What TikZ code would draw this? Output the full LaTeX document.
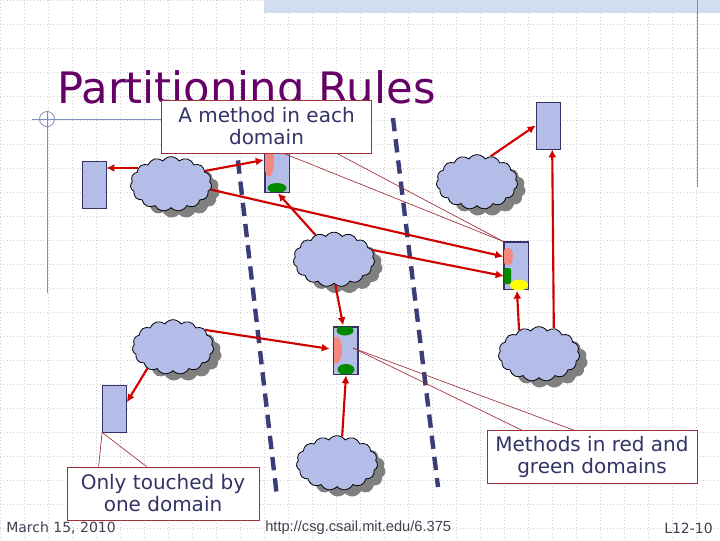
\documentclass[tikz,border=0pt]{standalone}
\usepackage{fontspec}
\setmainfont{DejaVu Sans}
\newfontfamily\urlfont{Liberation Sans}
\usetikzlibrary{arrows.meta,positioning,calc,shapes.geometric,shapes.symbols,shadows}

\definecolor{blobfill}{HTML}{B4BCE8}
\definecolor{navyline}{HTML}{333366}
\definecolor{dashnavy}{HTML}{3A3D78}
\definecolor{arrowred}{HTML}{D00000}
\definecolor{callred}{HTML}{A0303A}
\definecolor{calltext}{HTML}{333366}
\definecolor{titlepurple}{HTML}{660066}
\definecolor{pinkblob}{HTML}{F4877E}
\definecolor{greenblob}{HTML}{008A00}
\definecolor{yellowblob}{HTML}{FFFF00}
\definecolor{shadowgray}{HTML}{808080}
\definecolor{gridgray}{HTML}{D0D0D0}
\definecolor{bandblue}{HTML}{D3DDF0}
\definecolor{rulerblue}{HTML}{7F8CC0}
\definecolor{footgray}{HTML}{404050}

\begin{document}
\begin{tikzpicture}[
    x=0.75pt, y=-0.75pt,
    >=Latex,
    gridline/.style={gridgray, dotted, line width=0.5pt},
    ruler/.style={rulerblue, line width=0.6pt},
    boundary/.style={
        dashnavy,
        line width=3.3pt,
        dash pattern=on 10pt off 6pt
    },
    cloudbox/.style={
        cloud,
        cloud puffs=15,
        cloud puff arc=110,
        cloud ignores aspect,
        draw=black,
        line width=0.6pt,
        fill=blobfill,
        minimum width=61pt,
        minimum height=41pt,
        inner sep=0pt,
        drop shadow={shadow xshift=6pt, shadow yshift=-5pt,
                     fill=shadowgray, opacity=1}
    },
    regbox/.style={
        draw=navyline,
        fill=blobfill,
        line width=0.6pt,
        minimum width=18pt,
        minimum height=35.25pt,
        inner sep=0pt
    },
    modframe/.style={draw=navyline, line width=0.6pt},
    blob/.style={ellipse, inner sep=0pt},
    flow/.style={->, arrowred, line width=1.6pt,
        arrows={-Latex[length=6pt, width=6pt]}},
    callout/.style={
        draw=callred,
        fill=white,
        line width=0.6pt,
        text=calltext,
        font=\fontsize{15}{16.5}\selectfont,
        align=center,
        inner sep=0pt,
        minimum width=158pt,
        minimum height=39.75pt
    },
    pointer/.style={callred, line width=0.5pt},
    foot/.style={footgray, inner sep=0pt}
]

\useasboundingbox (0,0) rectangle (720,540);
\fill[white] (0,0) rectangle (720,540);

% background grid
\foreach \gx in {0,24,...,720}
    \draw[gridline] (\gx,0) -- (\gx,540);
\foreach \gy in {0,24,...,528}
    \draw[gridline] (0,\gy) -- (720,\gy);

% slide frame
\fill[bandblue] (264,0) rectangle (720,13);
\draw[ruler] (697,0) -- (697,187);
\draw[ruler] (47,112) -- (47,293);
\draw[ruler] (32,119) -- (170,119);
\draw[ruler] (47,119) circle[radius=7.5];

% title
\node[anchor=base west, inner sep=0pt, text=titlepurple,
      font=\fontsize{32.5}{36}\selectfont] (title) at (57,103)
    {Partitioning Rules};

% domain boundaries
\coordinate (bndAtop) at (233,118);
\coordinate (bndAbot) at (277,497);
\coordinate (bndBtop) at (393,118);
\coordinate (bndBbot) at (438,487);

\draw[boundary] (bndAtop) -- (bndAbot);
\draw[boundary] (bndBtop) -- (bndBbot);

% clouds
\node[cloudbox] (cloudNW)  at (171,184) {};
\node[cloudbox] (cloudMid) at (334,259.5) {};
\node[cloudbox] (cloudNE)  at (477,182) {};
\node[cloudbox] (cloudE)   at (539,354) {};
\node[cloudbox] (cloudSW)  at (173,347) {};
\node[cloudbox] (cloudS)   at (337,463) {};

% plain registers
\node[regbox] (regLeft) at (94,184.5) {};
\node[regbox] (regTR)   at (548,125.5) {};
\node[regbox] (regLow)  at (114.5,408.5) {};

% modules with methods
\node[regbox] (mTop)   at (277,168.5) {};
\node[regbox] (mRight) at (516,265.5) {};
\node[regbox] (mMid)   at (345.5,350.5) {};

\begin{scope}
    \clip (mTop.south west) rectangle (mTop.north east);
    \node[blob, fill=pinkblob, minimum width=7.5pt, minimum height=25.5pt]
        (mTopRed) at (269,160) {};
    \node[blob, fill=greenblob, minimum width=14.25pt, minimum height=7.5pt]
        (mTopGreen) at (277,188) {};
\end{scope}
\draw[modframe] (mTop.south west) rectangle (mTop.north east);

\begin{scope}
    \clip (mRight.south west) rectangle (mRight.north east);
    \node[fill=pinkblob, rounded corners=3pt, inner sep=0pt,
          minimum width=6.75pt, minimum height=12.75pt]
        (mRightRed) at (508,256.5) {};
    \node[fill=greenblob, rounded corners=1.5pt, inner sep=0pt,
          minimum width=5.25pt, minimum height=12pt]
        (mRightGreen) at (507.5,276) {};
\end{scope}
\draw[modframe] (mRight.south west) rectangle (mRight.north east);
\node[blob, fill=yellowblob, minimum width=13.5pt, minimum height=8.25pt]
    (mRightYellow) at (519,285) {};

\begin{scope}
    \clip (mMid.south west) rectangle (mMid.north east);
    \node[blob, fill=greenblob, minimum width=12.75pt, minimum height=7.5pt]
        (mMidTopGreen) at (345,330.5) {};
    \node[blob, fill=greenblob, minimum width=12.75pt, minimum height=8.25pt]
        (mMidBotGreen) at (346,369.5) {};
    \node[blob, fill=pinkblob, minimum width=9pt, minimum height=20.25pt]
        (mMidRed) at (336,350) {};
\end{scope}
\draw[modframe] (mMid.south west) rectangle (mMid.north east);

% method calls
\draw[flow] (cloudNW.154) -- (cloudNW.154 -| regLeft.east);
\draw[flow] (cloudNW.21) -- (mTopRed.west);
\draw[flow] (cloudNW.-8) -- (mRightRed.west);
\draw[flow] (cloudMid.14) -- (mRightGreen.west);
\draw[flow] (cloudMid.127) -- (mTopGreen.-80);
\draw[flow] (cloudMid.-87) -- (mMidTopGreen.110);
\draw[flow] (cloudSW.28) -- (mMidRed.170);
\draw[flow] (cloudSW.-140) -- (regLow.27);
\draw[flow] (cloudS.79) -- (mMidBotGreen.south);
\draw[flow] (cloudE.130) -- (mRightYellow.250);
\draw[flow] (cloudE.60) -- (regTR.-80);
\draw[flow] (cloudNE.62) -- (regTR.west);

% callouts
\node[callout] (callMethod) at (266.5,126.5)
    {A method in each\\domain};
\node[callout, minimum width=144pt] (callOnly) at (163,493.5)
    {Only touched by\\one domain};
\node[callout, minimum width=157.5pt] (callBoth) at (592,457)
    {Methods in red and\\green domains};

\draw[pointer] ($(callMethod.south west)+(123,0)$) -- (mRight.north west);
\draw[pointer] ($(callMethod.south west)+(176,0)$) -- (mRight.north west);
\draw[pointer] ($(callOnly.north west)+(32,0)$) -- (regLow.south west);
\draw[pointer] ($(callOnly.north west)+(80,0)$) -- (regLow.south west);
\coordinate (mMidTip) at ($(mMid.center)+(7.5,-2.5)$);
\draw[pointer] ($(callBoth.north west)+(35,0)$) -- (mMidTip);
\draw[pointer] ($(callBoth.north west)+(87,0)$) -- (mMidTip);

% footer
\node[foot, anchor=west, font=\fontsize{10.5}{12}\selectfont] (date) at (6,528)
    {March 15, 2010};
\node[foot, anchor=west, font=\urlfont\fontsize{11}{12}\selectfont] (url) at (265,528)
    {http://csg.csail.mit.edu/6.375};
\node[foot, anchor=east, font=\fontsize{10.5}{12}\selectfont] (slideno) at (713,528)
    {L12-10};

\end{tikzpicture}
\end{document}
